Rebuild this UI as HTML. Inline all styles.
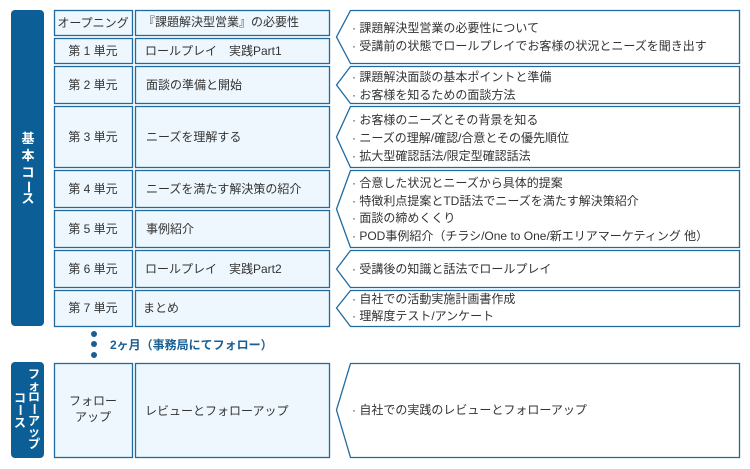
<!DOCTYPE html>
<html><head><meta charset="utf-8"><style>
html,body{margin:0;padding:0;background:#fff;}
svg{display:block;}
text{font-family:"Liberation Sans","Noto Sans CJK JP",sans-serif;font-size:12px;fill:#333;}
.b{fill:#eef7fd;stroke:#1f6aa0;stroke-width:1.3;}
.w{fill:#fff;stroke:#1f6aa0;stroke-width:1.3;}
.c{text-anchor:middle;}
.v{fill:#fff;font-size:13px;font-weight:bold;}
</style></head><body>
<svg width="750" height="469" viewBox="0 0 750 469">
<rect x="11" y="10" width="33" height="316" rx="4" fill="#0c5f96"/>
<rect x="11" y="362" width="33" height="96" rx="4" fill="#0c5f96"/>
<text class="v c" x="28" y="143">基</text>
<text class="v c" x="28" y="160">本</text>
<text class="v c" x="28" y="177">コ</text>
<text class="v c" x="28" y="191" transform="rotate(90 28 187)">ー</text>
<text class="v c" x="28" y="203">ス</text>
<text class="v c" x="34" y="378" style="font-size:12px">フ</text>
<text class="v c" x="34" y="390" style="font-size:12px">ォ</text>
<text class="v c" x="34" y="401" style="font-size:12px">ロ</text>
<text class="v c" x="34" y="413" style="font-size:12px" transform="rotate(90 34 409)">ー</text>
<text class="v c" x="34" y="425" style="font-size:12px">ア</text>
<text class="v c" x="34" y="436" style="font-size:12px">ッ</text>
<text class="v c" x="34" y="448" style="font-size:12px">プ</text>
<text class="v c" x="20" y="402" style="font-size:12px">コ</text>
<text class="v c" x="20" y="414" style="font-size:12px" transform="rotate(90 20 410)">ー</text>
<text class="v c" x="20" y="427" style="font-size:12px">ス</text>
<!-- col1 -->
<rect class="b" x="54.5" y="10.5" width="78" height="25"/>
<rect class="b" x="54.5" y="38.5" width="78" height="25"/>
<rect class="b" x="54.5" y="66.5" width="78" height="37"/>
<rect class="b" x="54.5" y="106.5" width="78" height="61"/>
<rect class="b" x="54.5" y="170.5" width="78" height="37"/>
<rect class="b" x="54.5" y="210.5" width="78" height="37"/>
<rect class="b" x="54.5" y="250.5" width="78" height="37"/>
<rect class="b" x="54.5" y="290.5" width="78" height="36"/>
<rect class="b" x="54.5" y="363.5" width="78" height="94"/>
<!-- col2 -->
<rect class="b" x="135.5" y="10.5" width="194" height="25"/>
<rect class="b" x="135.5" y="38.5" width="194" height="25"/>
<rect class="b" x="135.5" y="66.5" width="194" height="37"/>
<rect class="b" x="135.5" y="106.5" width="194" height="61"/>
<rect class="b" x="135.5" y="170.5" width="194" height="37"/>
<rect class="b" x="135.5" y="210.5" width="194" height="37"/>
<rect class="b" x="135.5" y="250.5" width="194" height="37"/>
<rect class="b" x="135.5" y="290.5" width="194" height="36"/>
<rect class="b" x="135.5" y="363.5" width="194" height="94"/>
<text class="c" x="93" y="27">オープニング</text>
<text class="c" x="93" y="55">第 1 単元</text>
<text class="c" x="93" y="89">第 2 単元</text>
<text class="c" x="93" y="141">第 3 単元</text>
<text class="c" x="93" y="193">第 4 単元</text>
<text class="c" x="93" y="233">第 5 単元</text>
<text class="c" x="93" y="273">第 6 単元</text>
<text class="c" x="93" y="312">第 7 単元</text>
<text class="c" x="93" y="405">フォロー</text>
<text class="c" x="93" y="421">アップ</text>
<text x="143" y="26">『課題解決型営業』の必要性</text>
<text x="145" y="55">ロールプレイ　実践Part1</text>
<text x="146" y="89">面談の準備と開始</text>
<text x="146" y="141">ニーズを理解する</text>
<text x="146" y="193">ニーズを満たす解決策の紹介</text>
<text x="146" y="233">事例紹介</text>
<text x="145" y="273">ロールプレイ　実践Part2</text>
<text x="143" y="312">まとめ</text>
<text x="145" y="415">レビューとフォローアップ</text>
<!-- right -->
<path class="w" d="M350.5 10.5H739.5V63.5H350.5L336.5 37Z"/>
<path class="w" d="M350.5 66.5H739.5V103.5H350.5L336.5 85Z"/>
<path class="w" d="M350.5 106.5H739.5V167.5H350.5L336.5 137Z"/>
<path class="w" d="M350.5 170.5H739.5V247.5H350.5L336.5 209Z"/>
<path class="w" d="M350.5 250.5H739.5V287.5H350.5L336.5 269Z"/>
<path class="w" d="M350.5 290.5H739.5V326.5H350.5L336.5 308Z"/>
<path class="w" d="M350.5 363.5H739.5V457.5H350.5L336.5 410Z"/>
<text x="352" y="32">· 課題解決型営業の必要性について</text>
<text x="352" y="50">· 受講前の状態でロールプレイでお客様の状況とニーズを聞き出す</text>
<text x="352" y="81">· 課題解決面談の基本ポイントと準備</text>
<text x="352" y="99">· お客様を知るための面談方法</text>
<text x="352" y="124">· お客様のニーズとその背景を知る</text>
<text x="352" y="142">· ニーズの理解/確認/合意とその優先順位</text>
<text x="352" y="160">· 拡大型確認話法/限定型確認話法</text>
<text x="352" y="187">· 合意した状況とニーズから具体的提案</text>
<text x="352" y="205">· 特徴利点提案とTD話法でニーズを満たす解決策紹介</text>
<text x="352" y="222">· 面談の締めくくり</text>
<text x="352" y="240">· POD事例紹介（チラシ/One to One/新エリアマーケティング 他）</text>
<text x="352" y="273">· 受講後の知識と話法でロールプレイ</text>
<text x="352" y="303">· 自社での活動実施計画書作成</text>
<text x="352" y="320">· 理解度テスト/アンケート</text>
<text x="352" y="414">· 自社での実践のレビューとフォローアップ</text>
<circle cx="94" cy="334" r="3" fill="#1a5f94"/>
<circle cx="94" cy="344" r="3" fill="#1a5f94"/>
<circle cx="94" cy="355" r="3" fill="#1a5f94"/>
<text x="110" y="349" style="fill:#1a5f94;font-weight:bold">2ヶ月（事務局にてフォロー）</text>
</svg>
</body></html>
